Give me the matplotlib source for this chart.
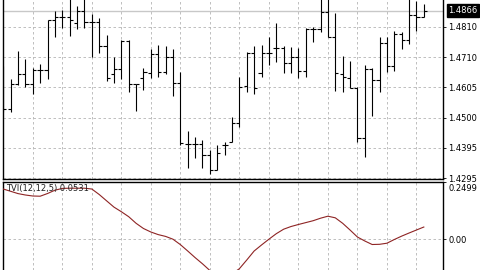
import matplotlib
matplotlib.use("Agg")
import matplotlib.pyplot as plt
import matplotlib.transforms as mtransforms

# daily bars, oldest first
opens = [1.4656, 1.4529, 1.4615, 1.4650, 1.4615, 1.4663, 1.4663, 1.4834, 1.4845, 1.4845,
         1.4825, 1.4864, 1.4827, 1.4827, 1.4746, 1.4650, 1.4666, 1.4763, 1.4615, 1.4635,
         1.4654, 1.4718, 1.4657, 1.4709, 1.4619, 1.4411, 1.4411, 1.4411, 1.4373, 1.4321,
         1.4408, 1.4419, 1.4484, 1.4609, 1.4722, 1.4654, 1.4720, 1.4737, 1.4737, 1.4686,
         1.4709, 1.4660, 1.4803, 1.4803, 1.4862, 1.4775, 1.4650, 1.4635, 1.4601, 1.4430,
         1.4667, 1.4629, 1.4754, 1.4678, 1.4786, 1.4766, 1.4851, 1.4845]
highs = [1.4677, 1.4633, 1.4729, 1.4700, 1.4669, 1.4684, 1.4834, 1.4865, 1.4868, 1.4912,
         1.4882, 1.4909, 1.4854, 1.4840, 1.4783, 1.4707, 1.4766, 1.4766, 1.4617, 1.4669,
         1.4736, 1.4750, 1.4745, 1.4735, 1.4656, 1.4454, 1.4435, 1.4425, 1.4391, 1.4409,
         1.4418, 1.4504, 1.4638, 1.4726, 1.4746, 1.4749, 1.4777, 1.4823, 1.4745, 1.4741,
         1.4739, 1.4806, 1.4811, 1.4909, 1.4905, 1.4857, 1.4711, 1.4694, 1.4604, 1.4680,
         1.4669, 1.4775, 1.4775, 1.4796, 1.4792, 1.4905, 1.4900, 1.4887]
lows = [1.4521, 1.4519, 1.4612, 1.4604, 1.4580, 1.4620, 1.4632, 1.4775, 1.4806, 1.4780,
        1.4802, 1.4806, 1.4709, 1.4720, 1.4627, 1.4620, 1.4633, 1.4587, 1.4525, 1.4595,
        1.4637, 1.4639, 1.4650, 1.4575, 1.4408, 1.4329, 1.4363, 1.4328, 1.4309, 1.4321,
        1.4372, 1.4419, 1.4470, 1.4587, 1.4580, 1.4638, 1.4680, 1.4692, 1.4654, 1.4652,
        1.4635, 1.4638, 1.4760, 1.4794, 1.4775, 1.4593, 1.4587, 1.4601, 1.4419, 1.4366,
        1.4507, 1.4587, 1.4655, 1.4661, 1.4735, 1.4752, 1.4797, 1.4843]
closes = [1.4529, 1.4615, 1.4650, 1.4615, 1.4663, 1.4663, 1.4834, 1.4845, 1.4845, 1.4834,
          1.4864, 1.4827, 1.4827, 1.4746, 1.4635, 1.4666, 1.4763, 1.4615, 1.4615, 1.4657,
          1.4718, 1.4657, 1.4709, 1.4619, 1.4415, 1.4411, 1.4411, 1.4373, 1.4321, 1.4379,
          1.4408, 1.4484, 1.4606, 1.4722, 1.4601, 1.4720, 1.4722, 1.4737, 1.4686, 1.4709,
          1.4660, 1.4803, 1.4803, 1.4862, 1.4775, 1.4654, 1.4638, 1.4601, 1.4430, 1.4667,
          1.4629, 1.4754, 1.4678, 1.4786, 1.4766, 1.4851, 1.4845, 1.4866]

tvi = [0.2174, 0.2075, 0.1976, 0.1915, 0.1872, 0.1863, 0.1980, 0.2123, 0.2200, 0.2209,
       0.2209, 0.2209, 0.2174, 0.1937, 0.1664, 0.1392, 0.1193, 0.0977, 0.0692, 0.0467,
       0.0316, 0.0203, 0.0125, 0.0004, -0.0229, -0.0506, -0.0791, -0.1059, -0.1349, -0.1500,
       -0.1587, -0.1500, -0.1271, -0.0895, -0.0506, -0.0246, 0.0004, 0.0242, 0.0437, 0.0553,
       0.0640, 0.0722, 0.0804, 0.0912, 0.0999, 0.0929, 0.0692, 0.0402, 0.0099, -0.0073,
       -0.0225, -0.0216, -0.0169, -0.0009, 0.0138, 0.0272, 0.0402, 0.0531]

price_ticks = [1.4295, 1.4398, 1.4501, 1.4604, 1.4707, 1.4810]
price_labels = ["1.4295", "1.4395", "1.4500", "1.4605", "1.4710", "1.4810"]
last_price = 1.4866
tvi_ticks = [0.0, 0.2499]
tvi_labels = ["0.00", "0.2499"]
tvi_title = "TVI(12,12,5) 0.0531"

W, H = 480, 270
GRID = dict(color="#b4b4b4", linewidth=0.6, linestyle=(0, (3, 3)))


def box(x0, y0, x1, y1):
    # pixel box with y measured from the top
    return [x0 / W, 1 - y1 / H, (x1 - x0) / W, (y1 - y0) / H]


fig = plt.figure(figsize=(4.8, 2.7), dpi=100)
ax = fig.add_axes(box(2.7, 0, 443, 179))
ax2 = fig.add_axes(box(2.7, 181.5, 443, 270))

x = list(range(len(opens)))
for a in (ax, ax2):
    a.set_xlim(-0.08, 59.6)
    a.set_xticks(range(4, 57, 4))
    a.tick_params(axis="x", length=0, labelbottom=False)
    a.xaxis.grid(True, **GRID)
    a.yaxis.tick_right()
    a.tick_params(axis="y", direction="out", length=2.5, width=0.6, pad=1.5,
                  labelsize=6, colors="black")
    a.set_axisbelow(True)
    for s in a.spines.values():
        s.set_linewidth(1.0)
        s.set_color("black")

# price panel
ax.spines["top"].set_visible(False)
ax.set_ylim(1.42916, 1.4902)
ax.set_yticks(price_ticks)
ax.set_yticklabels(price_labels)
ax.yaxis.grid(True, **GRID)
ax.axhline(last_price, color="#c8c8c8", linewidth=1.0, zorder=1)
ax.vlines(x, lows, highs, color="black", linewidth=0.8, zorder=3)
ax.hlines(opens, [i - 0.42 for i in x], x, color="black", linewidth=0.8, zorder=3)
ax.hlines(closes, x, [i + 0.42 for i in x], color="black", linewidth=0.8, zorder=3)
trans = mtransforms.blended_transform_factory(ax.transAxes, ax.transData)
ax.text(1.012, last_price, f"{last_price:.4f}", transform=trans, ha="left", va="center",
        fontsize=6, color="white",
        bbox=dict(boxstyle="square,pad=0.2", fc="black", ec="black"))

# indicator panel
ax2.spines["bottom"].set_visible(False)
ax2.set_ylim(-0.1327, 0.2499)
ax2.set_yticks(tvi_ticks)
ax2.set_yticklabels(tvi_labels)
# MT4 draws the top level label a bit below the window edge
top_lbl = ax2.get_yticklabels()[1]
top_lbl.set_transform(top_lbl.get_transform()
                      + mtransforms.ScaledTranslation(0, -4.5 / 72, fig.dpi_scale_trans))
ax2.yaxis.grid(True, **GRID)
ax2.plot(x, tvi, color="#8e2424", linewidth=0.8, zorder=3)
ax2.text(0.008, 0.975, tvi_title, transform=ax2.transAxes, ha="left", va="top",
         fontsize=6, color="#202020", zorder=4)

fig.savefig("out.png", dpi=100)
